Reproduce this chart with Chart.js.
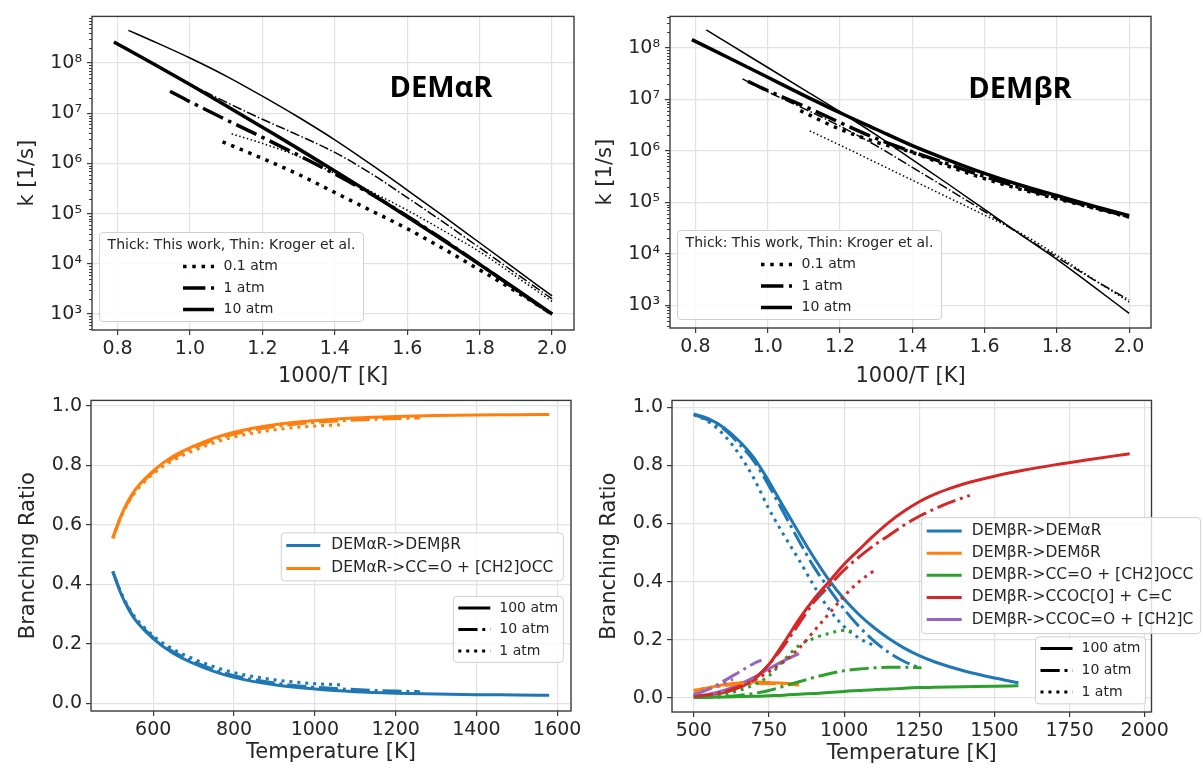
<!DOCTYPE html>
<html>
<head>
<meta charset="utf-8">
<script src="https://cdn.jsdelivr.net/npm/chart.js@4.4.1/dist/chart.umd.min.js"></script>
<style>
  html, body { margin: 0; padding: 0; background: #ffffff; }
  #wrap { position: relative; width: 1203px; height: 769px; overflow: hidden; background: #ffffff; }
  #wrap canvas { position: absolute; }
</style>
</head>
<body>
<div id="wrap">
  <canvas id="alphaRate" width="595" height="395" style="left:0px;top:0px"></canvas>
  <canvas id="betaRate" width="613" height="395" style="left:590px;top:0px"></canvas>
  <canvas id="alphaBranch" width="595" height="384" style="left:0px;top:385px"></canvas>
  <canvas id="betaBranch" width="613" height="384" style="left:590px;top:385px"></canvas>
</div>
<script>
// ---------------------------------------------------------------------------
// Rate constants k [1/s] versus 1000/T for DEMαR (thick: this work, thin: Kroger et al.)
// ---------------------------------------------------------------------------
const aWork10X = [0.79, 0.9, 1.0, 1.1, 1.2, 1.3, 1.4, 1.5, 1.6, 1.7, 1.8, 1.9, 2.0];
const aWork10K = [2.63e8, 9.55e7, 3.72e7, 1.41e7, 5.25e6, 1.95e6, 7.08e5, 2.51e5, 8.71e4, 2.95e4, 9.77e3, 3.16e3, 1.0e3];
const aWork1X  = [0.945, 1.0, 1.1, 1.2, 1.3, 1.4, 1.5, 1.6, 1.7, 1.8, 1.9, 2.0];
const aWork1K  = [2.75e7, 1.70e7, 7.41e6, 3.31e6, 1.45e6, 6.17e5, 2.45e5, 8.91e4, 3.02e4, 9.77e3, 3.09e3, 977];
const aWork01X = [1.09, 1.2, 1.3, 1.4, 1.5, 1.6, 1.7, 1.8, 1.9, 2.0];
const aWork01K = [2.69e6, 1.26e6, 6.03e5, 2.63e5, 1.15e5, 5.01e4, 2.0e4, 7.59e3, 2.82e3, 1.0e3];
const aKrog10X = [0.83, 0.9, 1.0, 1.1, 1.2, 1.3, 1.4, 1.5, 1.6, 1.7, 1.8, 1.9, 2.0];
const aKrog10K = [4.47e8, 2.69e8, 1.26e8, 5.5e7, 2.19e7, 8.32e6, 2.95e6, 9.55e5, 2.95e5, 8.91e4, 2.63e4, 7.76e3, 2.29e3];
const aKrog1X  = [1.0, 1.1, 1.2, 1.3, 1.4, 1.5, 1.6, 1.7, 1.8, 1.9, 2.0];
const aKrog1K  = [3.8e7, 1.66e7, 7.59e6, 3.63e6, 1.66e6, 6.31e5, 2.09e5, 6.76e4, 2.09e4, 6.46e3, 2.0e3];
const aKrog01X = [1.115, 1.2, 1.3, 1.4, 1.5, 1.6, 1.7, 1.8, 1.9, 2.0];
const aKrog01K = [3.89e6, 2.51e6, 1.38e6, 6.31e5, 2.75e5, 1.17e5, 4.57e4, 1.74e4, 5.62e3, 1.78e3];

// Rate constants for DEMβR
const bWork10X = [0.79, 0.9, 1.0, 1.1, 1.2, 1.3, 1.4, 1.5, 1.6, 1.7, 1.8, 1.9, 2.0];
const bWork10K = [1.45e8, 6.03e7, 2.69e7, 1.2e7, 5.5e6, 2.63e6, 1.26e6, 6.61e5, 3.63e5, 2.14e5, 1.35e5, 8.51e4, 5.5e4];
const bWork1X  = [0.945, 1.0, 1.1, 1.2, 1.3, 1.4, 1.5, 1.6, 1.7, 1.8, 1.9, 2.0];
const bWork1K  = [2.24e7, 1.48e7, 7.41e6, 3.55e6, 1.74e6, 9.55e5, 5.5e5, 3.16e5, 1.91e5, 1.23e5, 7.94e4, 5.25e4];
const bWork01X = [1.09, 1.2, 1.3, 1.4, 1.5, 1.6, 1.7, 1.8, 1.9, 2.0];
const bWork01K = [6.03e6, 2.63e6, 1.48e6, 9.33e5, 5.01e5, 2.88e5, 1.78e5, 1.17e5, 7.76e4, 5.13e4];
const bKrog10X = [0.83, 0.9, 1.0, 1.1, 1.2, 1.3, 1.4, 1.5, 1.6, 1.7, 1.8, 1.9, 2.0];
const bKrog10K = [2.24e8, 1.12e8, 4.17e7, 1.55e7, 5.75e6, 2.04e6, 6.76e5, 2.24e5, 7.24e4, 2.34e4, 7.76e3, 2.34e3, 692];
const bKrog1X  = [0.93, 1.0, 1.1, 1.2, 1.3, 1.4, 1.5, 1.6, 1.7, 1.8, 1.9, 2.0];
const bKrog1K  = [2.51e7, 1.41e7, 6.61e6, 3.02e6, 1.26e6, 4.79e5, 1.78e5, 6.61e4, 2.34e4, 8.51e3, 3.16e3, 1.26e3];
const bKrog01X = [1.116, 1.2, 1.3, 1.4, 1.5, 1.6, 1.7, 1.8, 1.9, 2.0];
const bKrog01K = [2.45e6, 1.29e6, 5.89e5, 2.69e5, 1.23e5, 5.62e4, 2.51e4, 9.33e3, 3.24e3, 1.15e3];

// ---------------------------------------------------------------------------
// DEMαR branching ratios versus temperature [K]
// ---------------------------------------------------------------------------
const aT100 = [500, 520, 550, 600, 650, 700, 750, 800, 900, 1000, 1100, 1200, 1300, 1400, 1500, 1580];
const aToBeta100 = [0.444, 0.370, 0.292, 0.218, 0.168, 0.135, 0.108, 0.088, 0.063, 0.049, 0.040, 0.035, 0.032, 0.030, 0.029, 0.028];
const aToCC100   = [0.556, 0.630, 0.708, 0.782, 0.832, 0.865, 0.892, 0.912, 0.937, 0.951, 0.960, 0.965, 0.968, 0.970, 0.971, 0.972];
const aT10 = [500, 520, 550, 600, 650, 700, 750, 800, 900, 1000, 1100, 1200, 1260];
const aToBeta10 = [0.444, 0.372, 0.295, 0.222, 0.174, 0.141, 0.114, 0.094, 0.069, 0.055, 0.047, 0.042, 0.040];
const aToCC10   = [0.556, 0.628, 0.705, 0.778, 0.826, 0.859, 0.886, 0.906, 0.931, 0.945, 0.953, 0.958, 0.960];
const aT1 = [500, 520, 550, 600, 650, 700, 750, 800, 900, 1000, 1065];
const aToBeta1 = [0.444, 0.374, 0.300, 0.228, 0.182, 0.150, 0.124, 0.104, 0.080, 0.067, 0.063];
const aToCC1   = [0.556, 0.626, 0.700, 0.772, 0.818, 0.850, 0.876, 0.896, 0.920, 0.933, 0.937];

// ---------------------------------------------------------------------------
// DEMβR branching ratios versus temperature [K]
// ---------------------------------------------------------------------------
const bT100 = [500, 550, 600, 650, 700, 750, 800, 850, 900, 950, 1000, 1050, 1100, 1150, 1200, 1250, 1300, 1400, 1500, 1580];
const bToAlpha100 = [0.977, 0.960, 0.930, 0.885, 0.826, 0.745, 0.655, 0.567, 0.482, 0.405, 0.340, 0.286, 0.241, 0.203, 0.171, 0.145, 0.124, 0.092, 0.068, 0.052];
const bToCC100    = [0.001, 0.002, 0.003, 0.004, 0.005, 0.007, 0.009, 0.012, 0.015, 0.018, 0.022, 0.025, 0.028, 0.030, 0.033, 0.035, 0.036, 0.038, 0.040, 0.041];
const bT100Red = [500, 550, 600, 650, 700, 750, 800, 850, 900, 950, 1000, 1050, 1100, 1150, 1200, 1250, 1300, 1350, 1400, 1500, 1600, 1700, 1800, 1900, 1950];
const bToCCOCO100 = [0.005, 0.010, 0.018, 0.035, 0.063, 0.115, 0.190, 0.270, 0.340, 0.400, 0.460, 0.510, 0.560, 0.605, 0.643, 0.675, 0.700, 0.720, 0.737, 0.763, 0.784, 0.802, 0.818, 0.833, 0.840];
const bT100Low = [500, 550, 600, 650, 700, 750, 800, 850];
const bToDelta100 = [0.025, 0.035, 0.045, 0.051, 0.054, 0.053, 0.050, 0.046];
const bToCCOCdO100 = [0.005, 0.012, 0.025, 0.045, 0.070, 0.100, 0.128, 0.152];

const bT10 = [500, 550, 600, 650, 700, 750, 800, 850, 900, 950, 1000, 1050, 1100, 1150, 1200, 1257];
const bToAlpha10 = [0.975, 0.955, 0.925, 0.875, 0.815, 0.730, 0.635, 0.540, 0.450, 0.375, 0.305, 0.245, 0.195, 0.155, 0.125, 0.100];
const bToCC10    = [0.001, 0.002, 0.004, 0.008, 0.015, 0.025, 0.040, 0.055, 0.070, 0.083, 0.093, 0.099, 0.103, 0.105, 0.105, 0.103];
const bT10Red = [500, 550, 600, 650, 700, 750, 800, 850, 900, 950, 1000, 1050, 1100, 1150, 1200, 1250, 1300, 1350, 1418];
const bToCCOCO10 = [0.005, 0.010, 0.020, 0.038, 0.065, 0.115, 0.180, 0.255, 0.330, 0.385, 0.440, 0.485, 0.525, 0.560, 0.595, 0.625, 0.650, 0.672, 0.697];
const bT10Low = [500, 550, 600, 650, 700, 750, 800, 850];
const bToDelta10 = [0.023, 0.033, 0.042, 0.048, 0.050, 0.049, 0.047, 0.044];
const bT10Purple = [500, 550, 600, 650, 700, 725];
const bToCCOCdO10 = [0.010, 0.030, 0.058, 0.088, 0.118, 0.130];

const bT1 = [500, 550, 600, 650, 700, 750, 800, 850, 900, 950, 1000, 1050, 1100];
const bToAlpha1 = [0.975, 0.950, 0.905, 0.840, 0.755, 0.650, 0.560, 0.475, 0.385, 0.305, 0.245, 0.205, 0.180];
const bT1Green = [500, 550, 600, 650, 700, 750, 800, 850, 900, 950, 1000, 1040];
const bToCC1   = [0.002, 0.005, 0.012, 0.025, 0.045, 0.075, 0.130, 0.180, 0.205, 0.222, 0.232, 0.224];
const bT1Red = [500, 550, 600, 650, 700, 750, 800, 850, 900, 950, 1000, 1050, 1110];
const bToCCOCO1 = [0.005, 0.010, 0.020, 0.035, 0.060, 0.090, 0.125, 0.170, 0.230, 0.290, 0.350, 0.400, 0.445];
const bT1Orange = [500, 550, 600, 650, 700, 750];
const bToDelta1 = [0.025, 0.035, 0.043, 0.048, 0.050, 0.050];
const bT1Purple = [500, 550, 600, 630];
const bToCCOCdO1 = [0.012, 0.030, 0.050, 0.064];

// Tick positions
const invTTicks = [0.8, 1.0, 1.2, 1.4, 1.6, 1.8, 2.0];
const rateTicks = [1e3, 1e4, 1e5, 1e6, 1e7, 1e8];
const alphaTempTicks = [600, 800, 1000, 1200, 1400, 1600];
const betaTempTicks = [500, 750, 1000, 1250, 1500, 1750, 2000];
const ratioTicks = [0.0, 0.2, 0.4, 0.6, 0.8, 1.0];

// ---------------------------------------------------------------------------
// Styling
// ---------------------------------------------------------------------------
const TXT = '#262626';
const AXC = '#3a3a3a';
const GRID = '#e2e2e2';
const C_BLUE = '#1f77b4', C_ORANGE = '#ff7f0e', C_GREEN = '#2ca02c', C_RED = '#d62728', C_PURPLE = '#9467bd';

const THICK = 3.5, THIN = 1.5, BW = 3;
const dotted = w => [w, 1.65 * w];
const dashdot = w => [6.4 * w, 1.6 * w, w, 1.6 * w];

Chart.defaults.font.family = "'DejaVu Sans', sans-serif";
Chart.defaults.color = TXT;
Chart.defaults.animation = false;

const SUP = { '0': '⁰', '1': '¹', '2': '²', '3': '³', '4': '⁴', '5': '⁵', '6': '⁶', '7': '⁷', '8': '⁸', '9': '⁹', '-': '⁻' };
const powLabel = v => '10' + String(Math.round(Math.log10(v))).split('').map(c => SUP[c]).join('');

function series(xs, ys, color, width, dash) {
  return {
    data: xs.map((x, i) => ({ x: x, y: ys[i] })),
    borderColor: color,
    borderWidth: width,
    borderDash: dash || [],
    borderJoinStyle: 'round',
    pointRadius: 0,
    fill: false,
    cubicInterpolationMode: 'monotone'
  };
}

function xAxis(min, max, ticks, fmt, title, height, titlePad) {
  return {
    type: 'linear', position: 'bottom', min: min, max: max, bounds: 'data',
    afterBuildTicks: s => { s.ticks = ticks.map(v => ({ value: v })); },
    afterFit: s => { s.height = height; },
    ticks: { callback: fmt, color: TXT, font: { size: 19, lineHeight: 1.2 }, padding: 3, autoSkip: false, maxRotation: 0, minRotation: 0 },
    grid: { color: GRID, lineWidth: 1.2, tickLength: 5, tickColor: AXC, tickWidth: 1.2 },
    border: { display: false },
    title: { display: true, text: title, color: TXT, font: { size: 21, lineHeight: 1.2 }, padding: { top: 0, bottom: titlePad } }
  };
}

function yAxis(type, min, max, ticks, fmt, title, width, titlePad, labelPad) {
  return {
    type: type, position: 'left', min: min, max: max, bounds: 'data',
    afterBuildTicks: s => { s.ticks = ticks.map(v => ({ value: v })); },
    afterFit: s => { s.width = width; },
    ticks: { callback: fmt, color: TXT, font: { size: 19, lineHeight: 1.2 }, padding: labelPad, autoSkip: false },
    grid: { color: GRID, lineWidth: 1.2, tickLength: 5, tickColor: AXC, tickWidth: 1.2 },
    border: { display: false },
    title: { display: true, text: title, color: TXT, font: { size: 21, lineHeight: 1.2 }, padding: { top: titlePad, bottom: 0 } }
  };
}

// Legend boxes, frame, minor log ticks and panel labels
function boxPath(ctx, x, y, w, h, r) {
  ctx.beginPath();
  ctx.moveTo(x + r, y);
  ctx.arcTo(x + w, y, x + w, y + h, r);
  ctx.arcTo(x + w, y + h, x, y + h, r);
  ctx.arcTo(x, y + h, x, y, r);
  ctx.arcTo(x, y, x + w, y, r);
  ctx.closePath();
}

function drawLegend(ctx, area, L) {
  const x = (L.right !== undefined) ? area.right - L.right - L.w : area.left + L.left;
  const y = (L.bottom !== undefined) ? area.bottom - L.bottom - L.h : area.top + L.top;
  ctx.save();
  boxPath(ctx, x, y, L.w, L.h, 3.5);
  ctx.fillStyle = 'rgba(255,255,255,0.82)';
  ctx.fill();
  ctx.lineWidth = 1;
  ctx.strokeStyle = '#d0d0d0';
  ctx.stroke();
  ctx.font = L.size + "px 'DejaVu Sans'";
  ctx.fillStyle = TXT;
  ctx.textBaseline = 'middle';
  if (L.title) {
    ctx.textAlign = 'center';
    ctx.fillText(L.title, x + L.w / 2, y + L.titleY);
  }
  ctx.textAlign = 'left';
  L.items.forEach((it, i) => {
    const yy = y + L.rows[i];
    ctx.beginPath();
    ctx.setLineDash(it.dash || []);
    ctx.lineCap = 'butt';
    ctx.lineWidth = it.width;
    ctx.strokeStyle = it.color;
    ctx.moveTo(x + L.s0, yy);
    ctx.lineTo(x + L.s1, yy);
    ctx.stroke();
    ctx.setLineDash([]);
    ctx.fillStyle = TXT;
    ctx.fillText(it.label, x + L.tx, yy);
  });
  ctx.restore();
}

const decoPlugin = {
  id: 'deco',
  afterDatasetsDraw(chart, args, o) {
    const ctx = chart.ctx, a = chart.chartArea;
    ctx.save();
    // minor ticks on log axis
    if (o.minorLog) {
      const s = chart.scales.y;
      ctx.strokeStyle = AXC;
      ctx.lineWidth = 1;
      const lo = Math.floor(Math.log10(s.min)), hi = Math.ceil(Math.log10(s.max));
      for (let e = lo; e <= hi; e++) {
        for (let d = 2; d <= 9; d++) {
          const v = d * Math.pow(10, e);
          if (v <= s.min || v >= s.max) continue;
          const py = Math.round(s.getPixelForValue(v)) + 0.5;
          ctx.beginPath();
          ctx.moveTo(a.left - 3, py);
          ctx.lineTo(a.left, py);
          ctx.stroke();
        }
      }
    }
    // axes frame
    ctx.strokeStyle = AXC;
    ctx.lineWidth = 1.4;
    ctx.strokeRect(a.left, a.top, a.right - a.left, a.bottom - a.top);
    // panel label
    if (o.label) {
      ctx.font = "bold 29px 'Open Sans', 'DejaVu Sans', sans-serif";
      ctx.fillStyle = '#000000';
      ctx.textAlign = 'center';
      ctx.textBaseline = 'alphabetic';
      ctx.fillText(o.label, a.left + o.labelX, a.top + o.labelY);
    }
    ctx.restore();
    (o.legends || []).forEach(L => drawLegend(ctx, a, L));
  }
};

function makeChart(id, datasets, scales, padding, deco) {
  return new Chart(document.getElementById(id), {
    type: 'line',
    data: { datasets: datasets.slice().reverse() },
    options: {
      responsive: false,
      devicePixelRatio: 1,
      animation: false,
      events: [],
      layout: { padding: padding },
      scales: scales,
      plugins: { legend: { display: false }, tooltip: { enabled: false }, deco: deco }
    },
    plugins: [decoPlugin]
  });
}

// Pressure legends
const rateLegend = {
  left: 7.5, bottom: 8.5, w: 264, h: 89, size: 14,
  title: 'Thick: This work, Thin: Kroger et al.', titleY: 12.5,
  rows: [34, 55.5, 77], s0: 83.5, s1: 114.5, tx: 124,
  items: [
    { label: '0.1 atm', color: '#000', width: THICK, dash: dotted(THICK) },
    { label: '1 atm', color: '#000', width: THICK, dash: dashdot(THICK) },
    { label: '10 atm', color: '#000', width: THICK, dash: [] }
  ]
};
const pressItems = [
  { label: '100 atm', color: '#000', width: BW, dash: [] },
  { label: '10 atm', color: '#000', width: BW, dash: dashdot(BW) },
  { label: '1 atm', color: '#000', width: BW, dash: dotted(BW) }
];

const invTFmt = v => Number(v).toFixed(1);
const ratioFmt = v => Number(v).toFixed(1);
const tempFmt = v => String(v);

// --- DEMαR rate constants ---
makeChart('alphaRate', [
  series(aWork10X, aWork10K, '#000', THICK),
  series(aWork1X, aWork1K, '#000', THICK, dashdot(THICK)),
  series(aWork01X, aWork01K, '#000', THICK, dotted(THICK)),
  series(aKrog10X, aKrog10K, '#000', THIN),
  series(aKrog1X, aKrog1K, '#000', THIN, dashdot(THIN)),
  series(aKrog01X, aKrog01K, '#000', THIN, dotted(THIN))
], {
  x: xAxis(0.7295, 2.0605, invTTicks, invTFmt, '1000/T [K]', 65, 5.4),
  y: yAxis('logarithmic', 481, 8.49e8, rateTicks, powLabel, 'k [1/s]', 92, 15.4, 5)
}, { left: 0, top: 16, right: 21, bottom: 0 }, {
  minorLog: true, label: 'DEMαR', labelX: 349, labelY: 80.7, legends: [rateLegend]
});

// --- DEMβR rate constants ---
makeChart('betaRate', [
  series(bWork10X, bWork10K, '#000', THICK),
  series(bWork1X, bWork1K, '#000', THICK, dashdot(THICK)),
  series(bWork01X, bWork01K, '#000', THICK, dotted(THICK)),
  series(bKrog10X, bKrog10K, '#000', THIN),
  series(bKrog1X, bKrog1K, '#000', THIN, dashdot(THIN)),
  series(bKrog01X, bKrog01K, '#000', THIN, dotted(THIN))
], {
  x: xAxis(0.7295, 2.0605, invTTicks, invTFmt, '1000/T [K]', 67, 5.4),
  y: yAxis('logarithmic', 359, 4.11e8, rateTicks, powLabel, 'k [1/s]', 80, 3.4, 5)
}, { left: 0, top: 15, right: 52, bottom: 0 }, {
  minorLog: true, label: 'DEMβR', labelX: 350, labelY: 81.7, legends: [rateLegend]
});

// --- DEMαR branching ratios ---
makeChart('alphaBranch', [
  series(aT100, aToBeta100, C_BLUE, BW),
  series(aT100, aToCC100, C_ORANGE, BW),
  series(aT10, aToBeta10, C_BLUE, BW, dashdot(BW)),
  series(aT10, aToCC10, C_ORANGE, BW, dashdot(BW)),
  series(aT1, aToBeta1, C_BLUE, BW, dotted(BW)),
  series(aT1, aToCC1, C_ORANGE, BW, dotted(BW))
], {
  x: xAxis(446, 1634, alphaTempTicks, tempFmt, 'Temperature [K]', 58, 3.4),
  y: yAxis('linear', -0.025, 1.019, ratioTicks, ratioFmt, 'Branching Ratio', 91, 16.1, 4)
}, { left: 0, top: 13, right: 24, bottom: 0 }, {
  legends: [
    {
      right: 7.7, top: 132.5, w: 282, h: 48, size: 15.5,
      rows: [12.5, 35.5], s0: 5, s1: 39, tx: 50,
      items: [
        { label: 'DEMαR->DEMβR', color: C_BLUE, width: BW },
        { label: 'DEMαR->CC=O + [CH2]OCC', color: C_ORANGE, width: BW }
      ]
    },
    {
      right: 7.7, top: 196, w: 110, h: 66, size: 14,
      rows: [11.5, 33, 54.5], s0: 5, s1: 37, tx: 46,
      items: pressItems
    }
  ]
});

// --- DEMβR branching ratios ---
makeChart('betaBranch', [
  series(bT100, bToAlpha100, C_BLUE, BW),
  series(bT100Low, bToDelta100, C_ORANGE, BW),
  series(bT100, bToCC100, C_GREEN, BW),
  series(bT100Red, bToCCOCO100, C_RED, BW),
  series(bT100Low, bToCCOCdO100, C_PURPLE, BW),
  series(bT10, bToAlpha10, C_BLUE, BW, dashdot(BW)),
  series(bT10Low, bToDelta10, C_ORANGE, BW, dashdot(BW)),
  series(bT10, bToCC10, C_GREEN, BW, dashdot(BW)),
  series(bT10Red, bToCCOCO10, C_RED, BW, dashdot(BW)),
  series(bT10Purple, bToCCOCdO10, C_PURPLE, BW, dashdot(BW)),
  series(bT1, bToAlpha1, C_BLUE, BW, dotted(BW)),
  series(bT1Orange, bToDelta1, C_ORANGE, BW, dotted(BW)),
  series(bT1Green, bToCC1, C_GREEN, BW, dotted(BW)),
  series(bT1Red, bToCCOCO1, C_RED, BW, dotted(BW)),
  series(bT1Purple, bToCCOCdO1, C_PURPLE, BW, dotted(BW))
], {
  x: xAxis(427.5, 2022.5, betaTempTicks, tempFmt, 'Temperature [K]', 57, 3.1),
  y: yAxis('linear', -0.049, 1.024, ratioTicks, ratioFmt, 'Branching Ratio', 82, 7, 4)
}, { left: 0, top: 14.5, right: 51.5, bottom: 0 }, {
  legends: [
    {
      left: 249.7, top: 117.2, w: 279, h: 116, size: 15.5,
      rows: [13.5, 35.6, 57.7, 79.8, 101.9], s0: 5, s1: 40, tx: 50,
      items: [
        { label: 'DEMβR->DEMαR', color: C_BLUE, width: BW },
        { label: 'DEMβR->DEMδR', color: C_ORANGE, width: BW },
        { label: 'DEMβR->CC=O + [CH2]OCC', color: C_GREEN, width: BW },
        { label: 'DEMβR->CCOC[O] + C=C', color: C_RED, width: BW },
        { label: 'DEMβR->CCOC=O + [CH2]C', color: C_PURPLE, width: BW }
      ]
    },
    {
      right: 6, top: 236.5, w: 110, h: 67, size: 14,
      rows: [11.5, 33.5, 55], s0: 5, s1: 37, tx: 46,
      items: pressItems
    }
  ]
});
</script>
</body>
</html>
